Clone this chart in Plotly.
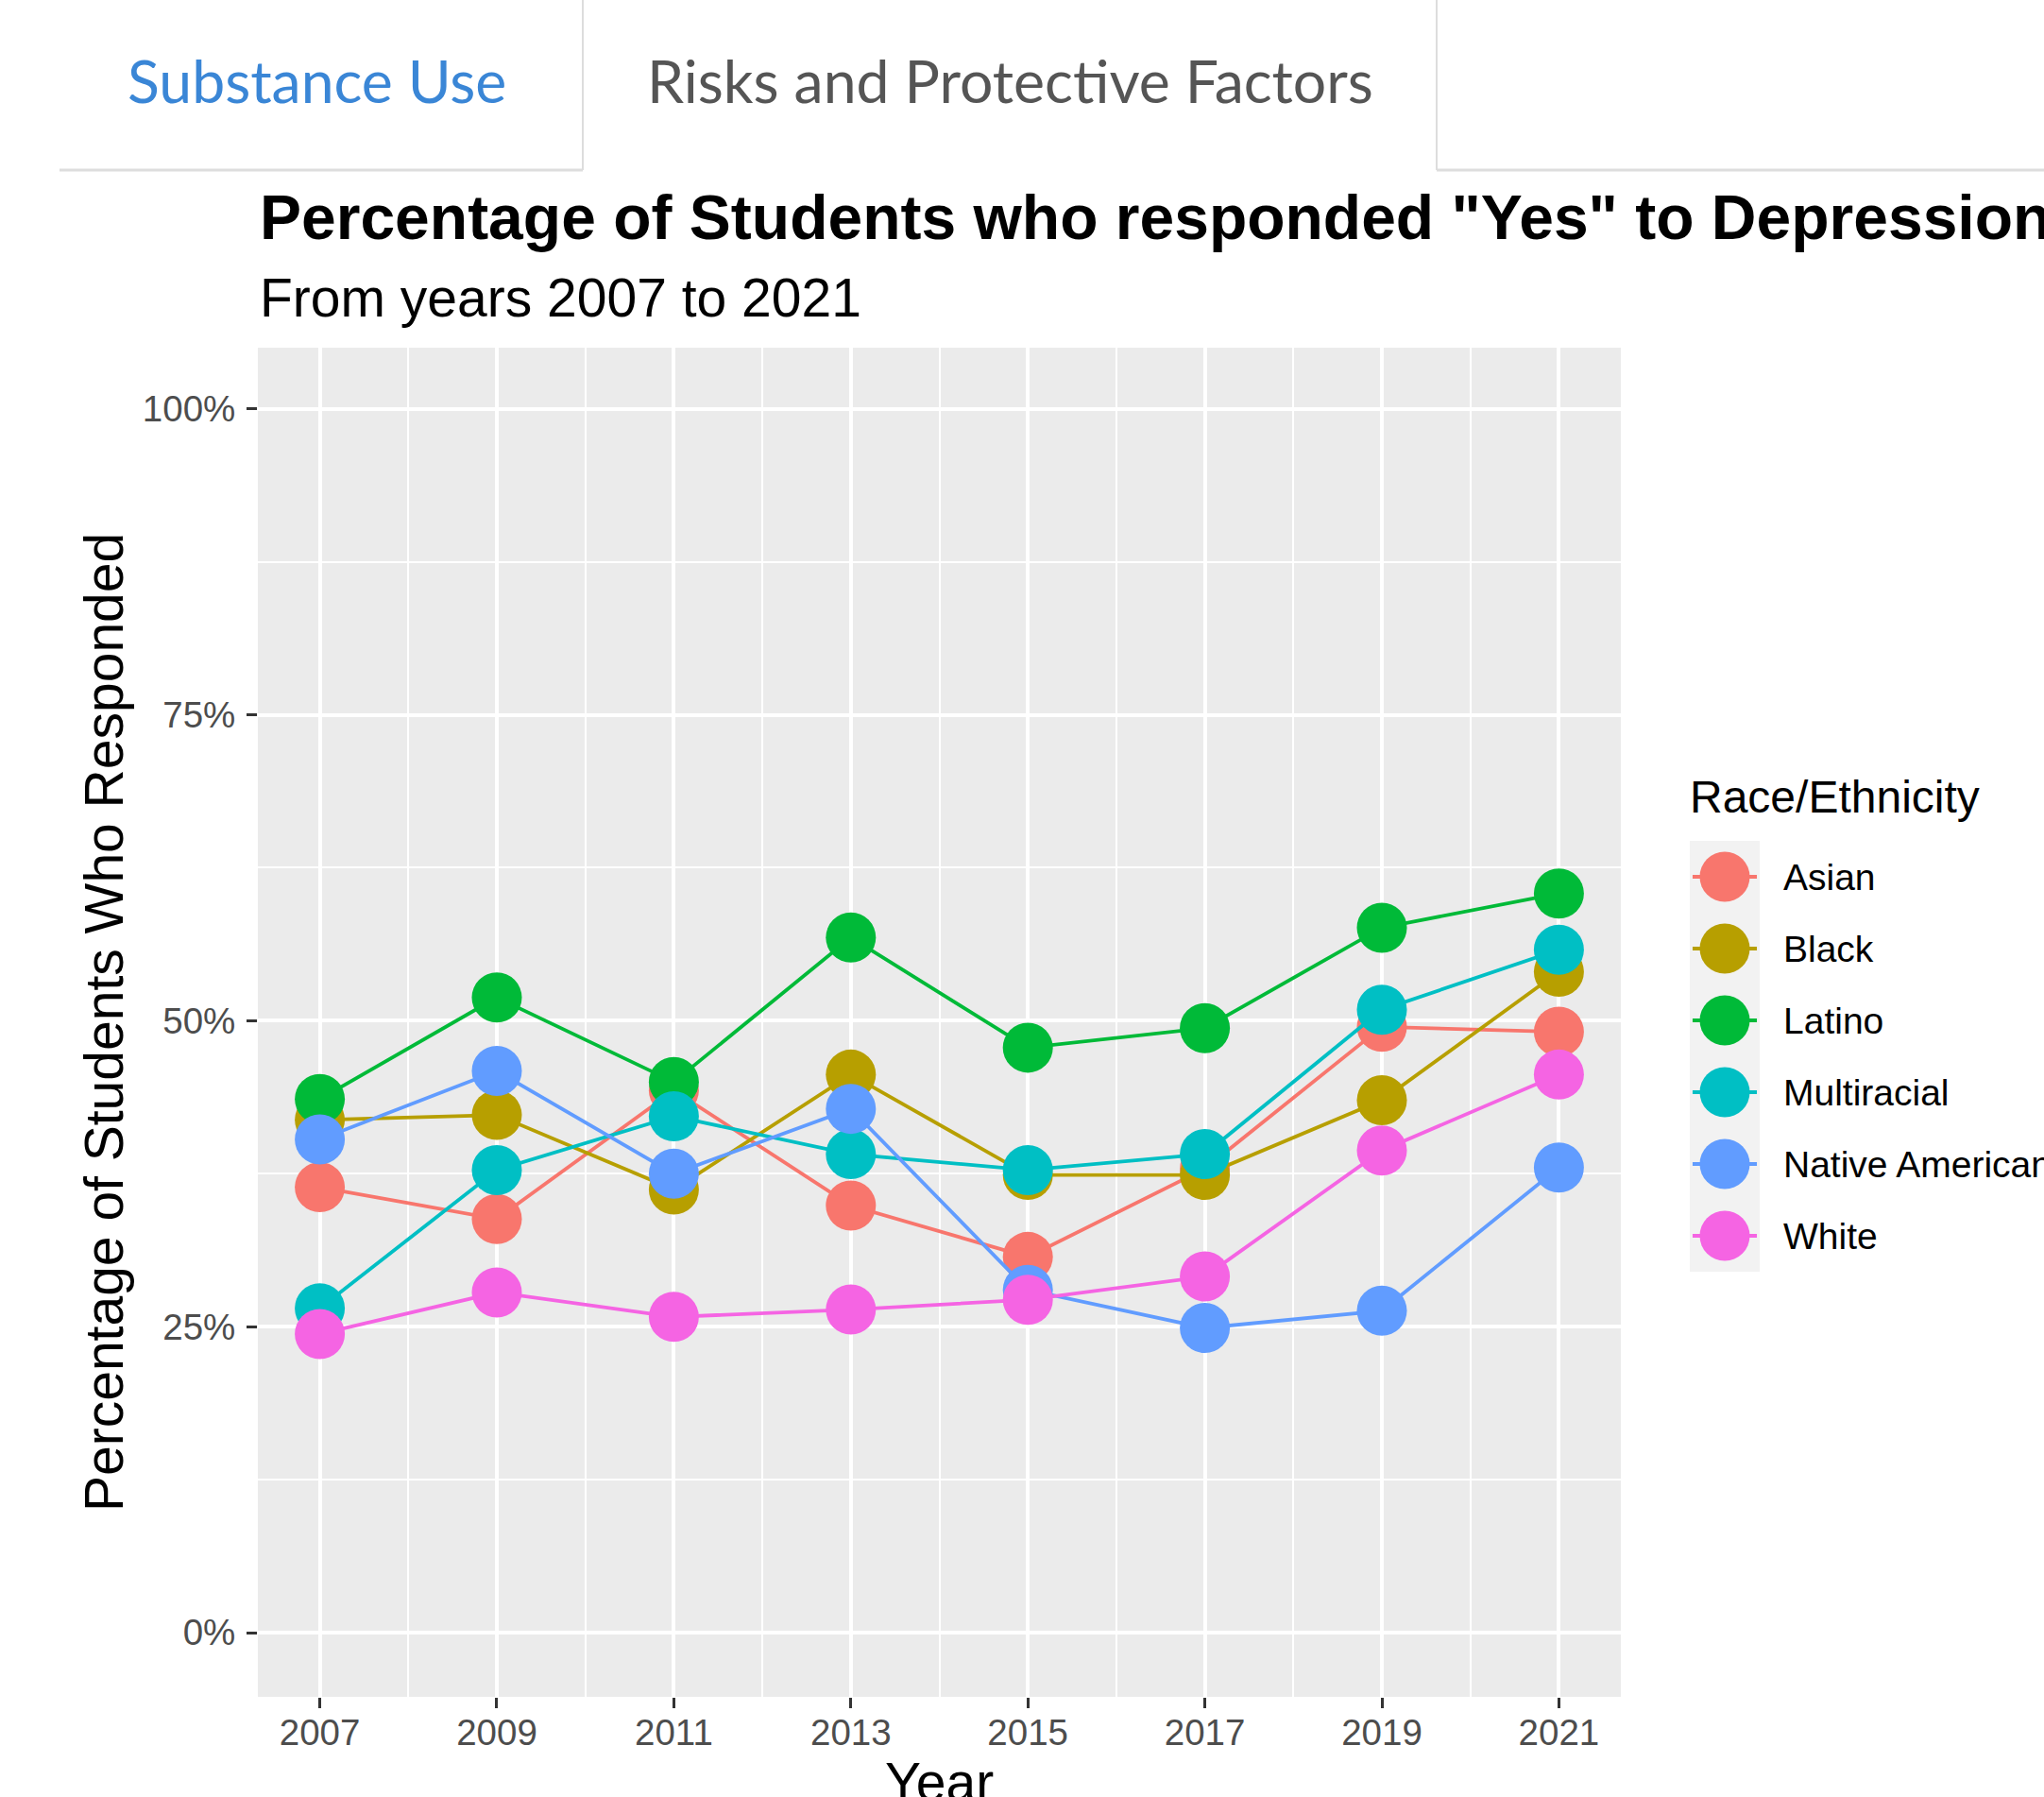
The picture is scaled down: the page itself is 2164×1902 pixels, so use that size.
import plotly.graph_objects as go

W, H = 2164, 1902

years = [2007, 2009, 2011, 2013, 2015, 2017, 2019, 2021]
groups = ["Asian", "Black", "Latino", "Multiracial", "Native American", "White"]
asian = [36.4, 33.8, 44.3, 34.9, 30.7, 37.9, 49.5, 49.1]
black = [41.9, 42.3, 36.2, 45.6, 37.4, 37.4, 43.5, 54.0]
latino = [43.6, 51.9, 45.0, 56.8, 47.8, 49.4, 57.6, 60.4]
multiracial = [26.5, 37.8, 42.2, 39.1, 37.8, 39.1, 50.9, 55.8]
native_american = [40.3, 45.9, 37.5, 42.8, 28.0, 24.9, 26.3, 38.0]
white = [24.4, 27.8, 25.8, 26.4, 27.2, 29.1, 39.4, 45.6]
series = [asian, black, latino, multiracial, native_american, white]
colors = ["#F8766D", "#B79F00", "#00BA38", "#00BFC4", "#619CFF", "#F564E3"]

y_ticks = [0, 25, 50, 75, 100]
x_ticks = years

title = 'Percentage of Students who responded "Yes" to Depression'
subtitle = "From years 2007 to 2021"
tabs = ["Substance Use", "Risks and Protective Factors"]


def px(x):
    return x / W


def py(y):
    return 1 - y / H


fig = go.Figure()

for name, vals, col in zip(groups, series, colors):
    fig.add_trace(go.Scatter(
        x=years, y=vals, name=name, mode="lines+markers",
        line=dict(color=col, width=3.8),
        marker=dict(color=col, size=53, line=dict(width=0)),
        showlegend=False, xaxis="x", yaxis="y",
    ))

# legend keys drawn as a small subplot
for i, (name, col) in enumerate(zip(groups, colors)):
    fig.add_trace(go.Scatter(
        x=[0.04, 0.96], y=[i, i], mode="lines", line=dict(color=col, width=3.8),
        showlegend=False, xaxis="x2", yaxis="y2", hoverinfo="skip",
    ))
    fig.add_trace(go.Scatter(
        x=[0.5], y=[i], mode="markers", marker=dict(color=col, size=53, line=dict(width=0)),
        showlegend=False, xaxis="x2", yaxis="y2", hoverinfo="skip",
    ))

font_r = "Liberation Sans, Arial, sans-serif"

fig.update_layout(
    width=W, height=H,
    margin=dict(l=0, r=0, t=0, b=0),
    paper_bgcolor="white",
    plot_bgcolor="#EBEBEB",
    font=dict(family=font_r, color="black"),
    xaxis=dict(
        domain=[px(273), px(1716)],
        range=[2006.3, 2021.7],
        tickmode="array", tickvals=x_ticks, ticktext=[str(v) for v in x_ticks],
        showgrid=True, gridcolor="white", gridwidth=3.8,
        minor=dict(dtick=1, tick0=2007, showgrid=True, gridcolor="white", gridwidth=1.9, ticklen=0),
        zeroline=False, showline=False,
        ticks="outside", ticklen=11, tickwidth=3, tickcolor="#333333",
        tickfont=dict(size=38.5, color="#4D4D4D", family=font_r),
        ticklabelstandoff=-7,
        anchor="y",
    ),
    yaxis=dict(
        domain=[py(1796), py(368)],
        range=[-5.25, 105],
        tickmode="array", tickvals=y_ticks, ticktext=[f"{v}%" for v in y_ticks],
        showgrid=True, gridcolor="white", gridwidth=3.8,
        minor=dict(dtick=12.5, tick0=0, showgrid=True, gridcolor="white", gridwidth=1.9, ticklen=0),
        zeroline=False, showline=False,
        ticks="outside", ticklen=11, tickwidth=3, tickcolor="#333333",
        tickfont=dict(size=38.5, color="#4D4D4D", family=font_r),
        ticklabelstandoff=4,
        anchor="x",
    ),
    xaxis2=dict(
        domain=[px(1789), px(1863)], range=[0, 1],
        visible=False, fixedrange=True, anchor="y2",
    ),
    yaxis2=dict(
        domain=[py(1346), py(890)], range=[5.5, -0.5],
        visible=False, fixedrange=True, anchor="x2",
    ),
    showlegend=False,
)

shapes = []
# legend key background
shapes.append(dict(type="rect", xref="x2 domain", yref="y2 domain", x0=0, x1=1, y0=0, y1=1,
                   fillcolor="#F2F2F2", line=dict(width=0), layer="below"))
# tab lines
tab_col = "#DDDDDD"
shapes.append(dict(type="line", xref="paper", yref="paper", x0=px(63), x1=px(617), y0=py(180), y1=py(180),
                   line=dict(color=tab_col, width=3)))
shapes.append(dict(type="line", xref="paper", yref="paper", x0=px(617), x1=px(617), y0=1, y1=py(180),
                   line=dict(color=tab_col, width=2)))
shapes.append(dict(type="line", xref="paper", yref="paper", x0=px(1521), x1=px(1521), y0=1, y1=py(180),
                   line=dict(color=tab_col, width=2)))
shapes.append(dict(type="line", xref="paper", yref="paper", x0=px(1521), x1=1, y0=py(180), y1=py(180),
                   line=dict(color=tab_col, width=3)))
fig.update_layout(shapes=shapes)

ann = []
tab_font = "Lato, Open Sans, sans-serif"
ann.append(dict(text=tabs[0], x=px(335), y=py(85), xref="paper", yref="paper", showarrow=False,
                xanchor="center", yanchor="middle", font=dict(family=tab_font, size=62.5, color="#3A86D6")))
ann.append(dict(text=tabs[1], x=px(1069), y=py(85), xref="paper", yref="paper", showarrow=False,
                xanchor="center", yanchor="middle", font=dict(family=tab_font, size=62.5, color="#555555")))
ann.append(dict(text="<b>" + title + "</b>", x=px(273), y=py(230), xref="paper", yref="paper",
                showarrow=False, xanchor="left", yanchor="middle", font=dict(size=66, color="black", family=font_r)))
ann.append(dict(text=subtitle, x=px(273), y=py(315), xref="paper", yref="paper", showarrow=False,
                xanchor="left", yanchor="middle", font=dict(size=57, color="black", family=font_r)))
ann.append(dict(text="Percentage of Students Who Responded", x=px(110), y=py(1082), xref="paper", yref="paper",
                showarrow=False, textangle=-90, xanchor="center", yanchor="middle",
                font=dict(size=57, color="black", family=font_r)))
ann.append(dict(text="Year", x=px(994), y=py(1886), xref="paper", yref="paper", showarrow=False,
                xanchor="center", yanchor="middle", font=dict(size=57, color="black", family=font_r)))
ann.append(dict(text="Race/Ethnicity", x=px(1787), y=py(843), xref="paper", yref="paper", showarrow=False,
                xanchor="left", yanchor="middle", font=dict(size=48, color="black", family=font_r)))
for i, name in enumerate(groups):
    ann.append(dict(text=name, x=px(1886), y=i, xref="paper", yref="y2", showarrow=False,
                    xanchor="left", yanchor="middle", font=dict(size=39, color="black", family=font_r)))
fig.update_layout(annotations=ann)

fig.write_html("out.html", config={"displayModeBar": False},
               post_script="document.body.style.margin='0';document.body.style.overflow='hidden';")
